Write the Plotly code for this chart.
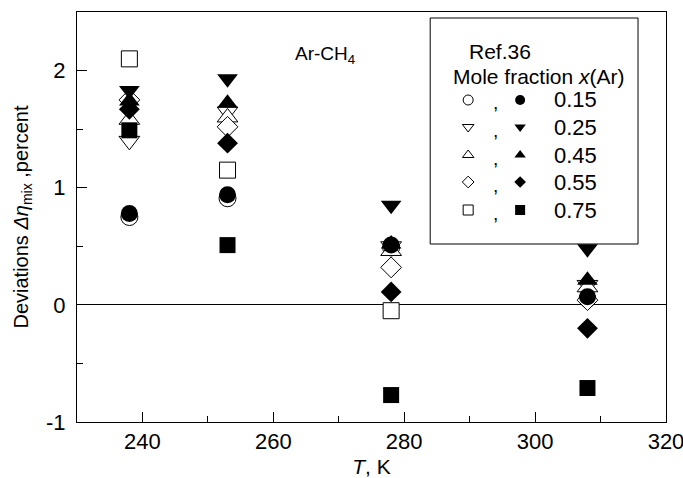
import plotly.graph_objects as go

# ---------------- data ----------------
T = [238, 253, 278, 308]
fractions = ["0.15", "0.25", "0.45", "0.55", "0.75"]
open_vals = {
    "0.15": [0.75, 0.91, 0.49, 0.05],
    "0.25": [1.40, 1.65, 0.50, 0.17],
    "0.45": [1.58, 1.60, 0.46, 0.15],
    "0.55": [1.75, 1.52, 0.32, 0.04],
    "0.75": [2.10, 1.15, -0.05, None],
}
filled_vals = {
    "0.15": [0.78, 0.94, 0.51, 0.07],
    "0.25": [1.83, 1.93, 0.85, 0.48],
    "0.45": [1.74, 1.72, 0.52, 0.21],
    "0.55": [1.67, 1.38, 0.11, -0.20],
    "0.75": [1.49, 0.51, -0.77, -0.71],
}
x_ticks = [240, 260, 280, 300, 320]
y_ticks = [-1, 0, 1, 2]
y_ticktext = ["-1", "0", "1", "2"]

# ---------------- styles ----------------
symbols = {"0.15": "circle", "0.25": "triangle-down", "0.45": "triangle-up",
           "0.55": "diamond", "0.75": "square"}
sizes = {"0.15": 17, "0.25": 18, "0.45": 18, "0.55": 16, "0.75": 16}
FONT = "Liberation Sans, Arial, Helvetica, sans-serif"

W, H = 683, 478
L, R, TOP, B = 76.5, 666, 12, 422

fig = go.Figure()

for f in fractions:
    fig.add_trace(go.Scatter(
        x=T, y=open_vals[f], mode="markers", showlegend=False,
        marker=dict(symbol=symbols[f], size=sizes[f], color="white",
                    line=dict(color="black", width=1))))
for f in fractions:
    fig.add_trace(go.Scatter(
        x=T, y=filled_vals[f], mode="markers", showlegend=False,
        marker=dict(symbol=symbols[f], size=sizes[f], color="black",
                    line=dict(color="black", width=0))))

# legend drawn in an overlay axis with pixel coordinates
leg_rows_y = [100, 127, 155, 182, 210]
leg_small = {"0.15": 10, "0.25": 10, "0.45": 10, "0.55": 9, "0.75": 10}
for f, py in zip(fractions, leg_rows_y):
    fig.add_trace(go.Scatter(
        x=[468], y=[py], mode="markers", showlegend=False, xaxis="x2", yaxis="y2",
        marker=dict(symbol=symbols[f], size=leg_small[f], color="white",
                    line=dict(color="black", width=1))))
    fig.add_trace(go.Scatter(
        x=[520], y=[py], mode="markers", showlegend=False, xaxis="x2", yaxis="y2",
        marker=dict(symbol=symbols[f], size=leg_small[f], color="black")))


def px(x):
    return (x - L) / (R - L)


def py_(y):
    return (B - y) / (B - TOP)


def ann(x, y, text, size, xanchor="center"):
    return dict(x=px(x), y=py_(y), xref="paper", yref="paper", text=text,
                showarrow=False, xanchor=xanchor, yanchor="middle",
                font=dict(size=size, family=FONT, color="black"))


annotations = [
    ann(500, 52, "Ref.36", 21),
    ann(539, 76, "Mole fraction <i>x</i>(Ar)", 21),
    ann(293, 55, "Ar-CH<sub>4</sub>", 19, "left"),
]
for f, yy in zip(fractions, leg_rows_y):
    annotations.append(ann(495, yy + 3, ",", 19))
    annotations.append(ann(552, yy, f, 22, "left"))

shapes = [dict(type="rect", xref="paper", yref="paper",
               x0=px(430), x1=px(638), y0=py_(244), y1=py_(18),
               line=dict(color="black", width=1), fillcolor="rgba(0,0,0,0)")]

fig.update_layout(
    width=W, height=H,
    margin=dict(l=L, r=W - R, t=TOP, b=H - B, pad=0, autoexpand=False),
    paper_bgcolor="white", plot_bgcolor="white",
    font=dict(family=FONT, color="black", size=21),
    annotations=annotations, shapes=shapes,
    xaxis=dict(range=[230, 320], tickvals=x_ticks, ticks="inside", ticklen=10,
               tickwidth=1, tickcolor="black", showline=True, linecolor="black",
               linewidth=1, mirror=True, showgrid=False, zeroline=False,
               tickfont=dict(size=22), ticklabeloverflow="allow", automargin=False,
               minor=dict(dtick=10, tick0=230, ticks="inside", ticklen=6,
                          tickcolor="black", showgrid=False),
               title=dict(text="<i>T</i>, K", font=dict(size=21), standoff=6)),
    yaxis=dict(range=[-1, 2.5], tickvals=y_ticks, ticktext=y_ticktext,
               ticks="inside", ticklen=10, tickwidth=1, tickcolor="black",
               showline=True, linecolor="black", linewidth=1, mirror=True,
               showgrid=False, zeroline=True, zerolinecolor="black",
               zerolinewidth=1, tickfont=dict(size=22), ticklabelstandoff=6,
               automargin=False,
               minor=dict(dtick=0.5, tick0=-1, ticks="inside", ticklen=6,
                          tickcolor="black", showgrid=False),
               title=dict(text="Deviations <i>Δη</i><sub>mix</sub> ,percent",
                          font=dict(size=20), standoff=12)),
    xaxis2=dict(overlaying="x", anchor="y2", range=[L, R], visible=False),
    yaxis2=dict(overlaying="y", anchor="x2", range=[B, TOP], visible=False),
)

fig.write_html("out.html")
